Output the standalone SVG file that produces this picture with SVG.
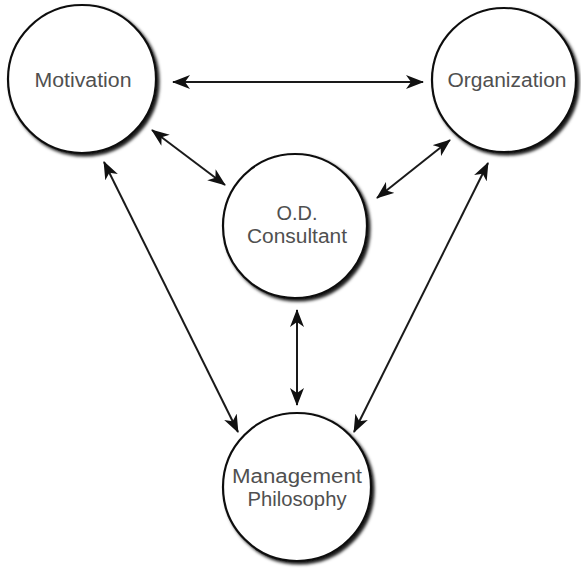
<svg xmlns="http://www.w3.org/2000/svg" width="581" height="568" viewBox="0 0 581 568">
<style>
.node circle{fill:#fff;stroke:#111;stroke-width:2.2;filter:url(#sh)}
.node text{font-family:"Liberation Sans",Arial,sans-serif;font-size:20px;fill:#505050;text-anchor:middle}
.conn line{stroke:#1a1a1a;stroke-width:2;marker-start:url(#ah);marker-end:url(#ah)}
</style>
<defs>
<filter id="sh" x="-20%" y="-20%" width="150%" height="150%">
<feDropShadow dx="2.5" dy="2.5" stdDeviation="1.6" flood-color="#000" flood-opacity="0.9"/>
</filter>
<marker id="ah" viewBox="0 0 18 14" refX="17" refY="7" markerWidth="18" markerHeight="14" markerUnits="userSpaceOnUse" orient="auto-start-reverse">
<path d="M0,0 L18,7 L0,14 L5,7 z" fill="#111"/>
</marker>
</defs>
<rect width="581" height="568" fill="#fff"/>
<g class="conn" id="connectors">
<line x1="173" y1="82" x2="423" y2="82"/>
<line x1="152" y1="130" x2="225" y2="185"/>
<line x1="377" y1="198" x2="450" y2="140"/>
<line x1="104" y1="162" x2="238" y2="432"/>
<line x1="354" y1="432" x2="488" y2="163"/>
<line x1="297" y1="310" x2="297" y2="405"/>
</g>
<g class="node" id="motivation">
<circle cx="82" cy="79" r="74"/>
<text x="83" y="87" textLength="97" lengthAdjust="spacingAndGlyphs">Motivation</text>
</g>
<g class="node" id="organization">
<circle cx="504" cy="80" r="72"/>
<text x="507" y="87" textLength="119" lengthAdjust="spacingAndGlyphs">Organization</text>
</g>
<g class="node" id="consultant">
<circle cx="295" cy="226" r="72"/>
<text x="297" y="220" textLength="41" lengthAdjust="spacingAndGlyphs">O.D.</text>
<text x="297" y="243" textLength="100" lengthAdjust="spacingAndGlyphs">Consultant</text>
</g>
<g class="node" id="management">
<circle cx="297" cy="487" r="74"/>
<text x="297" y="483" textLength="130" lengthAdjust="spacingAndGlyphs">Management</text>
<text x="297" y="506" textLength="99" lengthAdjust="spacingAndGlyphs">Philosophy</text>
</g>
</svg>
